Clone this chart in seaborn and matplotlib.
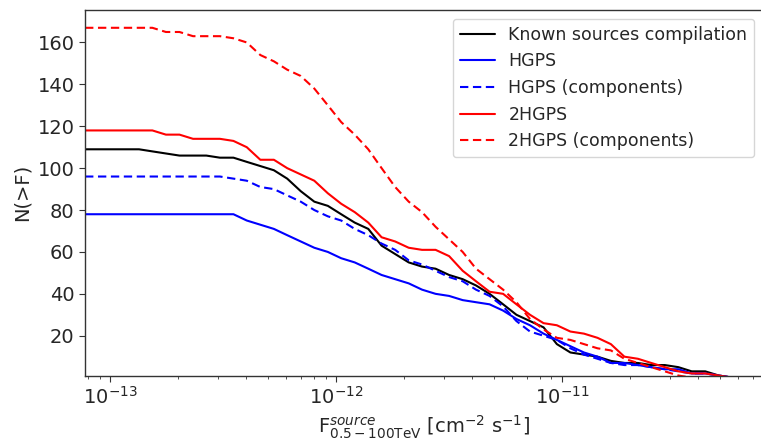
import seaborn as sns
import matplotlib
matplotlib.use("Agg")
import matplotlib.pyplot as plt
from matplotlib.ticker import NullFormatter
import pandas as pd
import numpy as np

# log10 of the flux grid (cm^-2 s^-1)
log_flux = [-13.111, -13.051, -12.992, -12.932, -12.872, -12.813, -12.753, -12.693,
            -12.633, -12.574, -12.514, -12.454, -12.395, -12.335, -12.275, -12.216,
            -12.156, -12.096, -12.036, -11.977, -11.917, -11.857, -11.798, -11.738,
            -11.678, -11.619, -11.559, -11.499, -11.439, -11.380, -11.320, -11.260,
            -11.201, -11.141, -11.081, -11.022, -10.962, -10.902, -10.842, -10.783,
            -10.723, -10.663, -10.604, -10.544, -10.484, -10.425, -10.365, -10.305,
            -10.246]

known = [109, 109, 109, 109, 109, 108, 107, 106, 106, 106, 105, 105, 103, 101, 99, 95,
         89, 84, 82, 78, 74, 71, 63, 59, 55, 53, 52, 49, 47, 44, 40, 35,
         30, 27, 24, 16, 12, 11, 10, 8, 7, 7, 6, 6, 5, 3, 3, 1, 0]
hgps = [78, 78, 78, 78, 78, 78, 78, 78, 78, 78, 78, 78, 75, 73, 71, 68,
        65, 62, 60, 57, 55, 52, 49, 47, 45, 42, 40, 39, 37, 36, 35, 32,
        28, 25, 21, 18, 15, 12, 10, 7, 7, 6, 5, 4, 4, 2, 2, 1, 0]
hgps_comp = [96, 96, 96, 96, 96, 96, 96, 96, 96, 96, 96, 95, 94, 91, 90, 87,
             84, 80, 77, 75, 71, 68, 64, 61, 56, 54, 51, 48, 46, 42, 39, 34,
             27, 22, 20, 18, 14, 11, 9, 7, 6, 6, 5, 4, 3, 2, 2, 1, 0]
hgps2 = [118, 118, 118, 118, 118, 118, 116, 116, 114, 114, 114, 113, 110, 104, 104, 100,
         97, 94, 88, 83, 79, 74, 67, 65, 62, 61, 61, 58, 51, 46, 41, 40,
         35, 30, 26, 25, 22, 21, 19, 16, 10, 9, 7, 5, 3, 2, 2, 1, 0]
hgps2_comp = [167, 167, 167, 167, 167, 167, 165, 165, 163, 163, 163, 162, 160, 154, 151, 147,
              144, 138, 130, 122, 116, 109, 100, 91, 84, 79, 72, 66, 60, 52, 47, 42,
              36, 28, 23, 19, 18, 16, 14, 13, 9, 7, 5, 3, 1, 0, 0, 0, 0]

names = ["Known sources compilation", "HGPS", "HGPS (components)",
         "2HGPS", "2HGPS (components)"]
series = [known, hgps, hgps_comp, hgps2, hgps2_comp]
colors = ["black", "blue", "blue", "red", "red"]
dash = ["", "", (4, 2.2), "", (4, 2.2)]

flux = 10 ** np.array(log_flux)
df = pd.concat([pd.DataFrame({"flux": flux, "N": s, "series": n})
                for n, s in zip(names, series)], ignore_index=True)

sns.set_style("ticks")
plt.rcParams["font.family"] = ["DejaVu Sans"]

fig = plt.figure(figsize=(7.61, 4.46), dpi=100)
# the reference is cropped on the right, so the right spine is not shown
ax = fig.add_axes([0.1117, 0.158, 0.891, 0.8196])

sns.lineplot(data=df, x="flux", y="N", hue="series", style="series",
             palette=dict(zip(names, colors)), dashes=dict(zip(names, dash)),
             hue_order=names, style_order=names, linewidth=1.5, ax=ax,
             estimator=None, sort=False)

ax.set_xscale("log")
ax.set_xlim(7.74e-14, 7.78e-11)
ax.set_ylim(1, 175.5)
ax.set_xticks([1e-13, 1e-12, 1e-11])
ax.set_yticks([20, 40, 60, 80, 100, 120, 140, 160])
ax.xaxis.set_minor_formatter(NullFormatter())
ax.tick_params(axis="both", which="major", labelsize=14, length=4, color="0.2")
ax.tick_params(axis="x", which="minor", length=2.5, color="0.2")
for sp in ax.spines.values():
    sp.set_color("0.2")
    sp.set_linewidth(1.0)
ax.spines["right"].set_visible(False)

ax.set_xlabel(r"F$_{0.5-100\mathrm{TeV}}^{source}$ [cm$^{-2}$ s$^{-1}$]", fontsize=14)
ax.set_ylabel("N(>F)", fontsize=14)

ax.legend(loc="upper right", fontsize=12.5, frameon=True, fancybox=True,
          edgecolor="0.8", handlelength=2.0, borderaxespad=0.5)

fig.savefig("out.png", dpi=100)
